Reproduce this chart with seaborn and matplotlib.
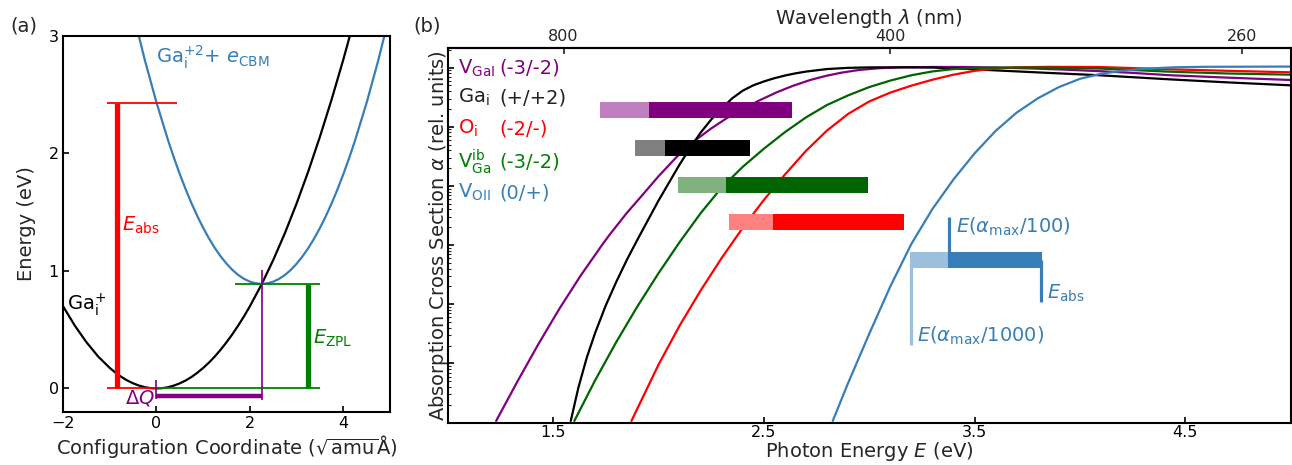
import numpy as np
import pandas as pd
import matplotlib
matplotlib.use("Agg")
import matplotlib.pyplot as plt
import seaborn as sns
from matplotlib.ticker import NullFormatter, LogLocator, NullLocator
from matplotlib.colors import to_rgb

sns.set_style("white")
plt.rcParams['font.family'] = ['DejaVu Sans']
plt.rcParams['mathtext.fontset'] = 'dejavusans'

# ---------------- Panel (a) data: configuration coordinate diagram ----------------
Q_ground = [-2.0, -1.75, -1.5, -1.25, -1.0, -0.875, -0.75, -0.625, -0.5, -0.375, -0.25, -0.125, 0.0,
            0.125, 0.25, 0.375, 0.5, 0.625, 0.75, 0.875, 1.0, 1.125, 1.25, 1.375, 1.5, 1.625, 1.75,
            1.875, 2.0, 2.25, 2.5, 2.75, 3.0, 3.25, 3.5, 3.75, 4.0, 4.25]
E_ground = [0.700, 0.536, 0.394, 0.273, 0.175, 0.134, 0.098, 0.068, 0.044, 0.025, 0.011, 0.003, 0.0,
            0.003, 0.011, 0.025, 0.044, 0.068, 0.098, 0.134, 0.175, 0.221, 0.273, 0.331, 0.394, 0.462, 0.536,
            0.615, 0.700, 0.886, 1.094, 1.323, 1.575, 1.848, 2.144, 2.461, 2.800, 3.161]
Q_excited = [-0.5, -0.25, 0.0, 0.25, 0.375, 0.5, 0.625, 0.75, 0.875, 1.0, 1.125, 1.25, 1.375, 1.5,
             1.625, 1.75, 1.875, 2.0, 2.125, 2.25, 2.375, 2.5, 2.625, 2.75, 2.875, 3.0, 3.125, 3.25,
             3.375, 3.5, 3.625, 3.75, 3.875, 4.0, 4.125, 4.25, 4.5, 4.75, 5.0]
E_excited = [3.197, 2.796, 2.434, 2.110, 1.962, 1.824, 1.695, 1.576, 1.467, 1.367, 1.276, 1.195, 1.124, 1.062,
             1.009, 0.966, 0.933, 0.909, 0.895, 0.890, 0.895, 0.909, 0.933, 0.966, 1.009, 1.062, 1.124, 1.195,
             1.276, 1.367, 1.467, 1.576, 1.695, 1.824, 1.962, 2.110, 2.434, 2.796, 3.197]
delta_Q = 2.25
E_zpl = 0.89
E_abs_a = 2.43

# ---------------- Panel (b) data: absorption cross sections (log10 of relative alpha) ----------------
E_VGaI = [1.23, 1.33, 1.43, 1.53, 1.63, 1.73, 1.77, 1.85, 1.92, 2.00, 2.085, 2.18, 2.25, 2.322, 2.40,
          2.479, 2.56, 2.637, 2.72, 2.795, 2.87, 2.953, 3.05, 3.174, 3.30, 3.45, 3.60, 3.77, 3.93, 4.088,
          4.25, 4.43, 4.70, 5.0]
logA_VGaI = [-5.97, -5.31, -4.675, -4.075, -3.52, -3.01, -2.816, -2.456, -2.17, -1.838, -1.515, -1.214,
             -1.03, -0.86, -0.70, -0.555, -0.42, -0.31, -0.21, -0.14, -0.085, -0.04, -0.01, 0.005, 0.01,
             0.01, 0.0, -0.015, -0.035, -0.06, -0.09, -0.13, -0.17, -0.21]
E_Gai = [1.584, 1.62, 1.66, 1.70, 1.75, 1.80, 1.85, 1.90, 2.00, 2.10, 2.15, 2.20, 2.25, 2.30, 2.35, 2.40,
         2.45, 2.50, 2.55, 2.60, 2.65, 2.70, 2.80, 2.90, 3.00, 3.15, 3.30, 3.45, 3.614, 3.85, 4.088, 4.43,
         4.70, 5.0]
logA_Gai = [-5.97, -5.41, -4.90, -4.48, -4.02, -3.62, -3.25, -2.91, -2.25, -1.64, -1.36, -1.10, -0.88,
            -0.69, -0.52, -0.39, -0.30, -0.235, -0.18, -0.135, -0.098, -0.068, -0.025, -0.005, 0.003,
            0.005, 0.0, -0.02, -0.05, -0.09, -0.129, -0.20, -0.25, -0.30]
E_Oi = [1.872, 2.00, 2.10, 2.20, 2.30, 2.40, 2.50, 2.60, 2.70, 2.80, 2.90, 3.00, 3.10, 3.20, 3.30, 3.40,
        3.50, 3.60, 3.70, 3.85, 4.088, 4.43, 4.70, 5.0]
logA_Oi = [-5.97, -5.023, -4.363, -3.768, -3.218, -2.708, -2.238, -1.808, -1.408, -1.063, -0.783, -0.573,
           -0.423, -0.3055, -0.205, -0.12, -0.055, -0.015, 0.005, 0.012, 0.01, -0.03, -0.055, -0.08]
E_VGaib = [1.601, 1.70, 1.80, 1.90, 2.00, 2.10, 2.20, 2.30, 2.40, 2.50, 2.60, 2.70, 2.80, 2.90, 3.00,
           3.10, 3.20, 3.30, 3.40, 3.50, 3.60, 3.80, 4.088, 4.43, 4.70, 5.0]
logA_VGaib = [-5.97, -5.282, -4.637, -4.037, -3.477, -2.952, -2.462, -2.027, -1.677, -1.372, -1.092,
              -0.842, -0.632, -0.47, -0.33, -0.22, -0.13, -0.065, -0.025, -0.005, 0.0, 0.0, -0.016,
              -0.07, -0.10, -0.12]
E_VOII = [2.827, 2.90, 3.00, 3.10, 3.20, 3.30, 3.40, 3.50, 3.60, 3.70, 3.80, 3.90, 4.00, 4.10, 4.20,
          4.30, 4.45, 4.60, 5.0]
logA_VOII = [-5.97, -5.33, -4.50, -3.70, -2.98, -2.39, -1.89, -1.45, -1.07, -0.76, -0.52, -0.33, -0.19,
             -0.105, -0.055, -0.02, 0.005, 0.013, 0.017]

defect_names = ["V_GaI", "Ga_i", "O_i", "V_Ga^ib", "V_OII"]
defect_labels = [r"V$_\mathrm{GaI}$", r"Ga$_\mathrm{i}$", r"O$_\mathrm{i}$",
                 r"V$_\mathrm{Ga}^\mathrm{ib}$", r"V$_\mathrm{OII}$"]
charge_labels = ["(-3/-2)", "(+/+2)", "(-2/-)", "(-3/-2)", "(0/+)"]

# bars (top to bottom order): E(alpha_max/1000), E(alpha_max/100), E_abs
bar_defects = ["V_GaI", "Ga_i", "V_Ga^ib", "O_i", "V_OII"]
E_1000 = [1.721, 1.891, 2.095, 2.336, 3.193]
E_100 = [1.953, 2.033, 2.322, 2.544, 3.373]
E_absorb = [2.633, 2.435, 2.994, 3.164, 3.822]

wavelength_ticks = [800, 400, 260]
hc = 1239.84

# ---------------- styling ----------------
blue = "#377eb8"
colors = {"V_GaI": "purple", "Ga_i": "black", "O_i": "red", "V_Ga^ib": "darkgreen", "V_OII": blue}
text_colors = {"V_GaI": "purple", "Ga_i": "#222222", "O_i": "red", "V_Ga^ib": "green", "V_OII": blue}


def lighten(c, f=0.5):
    r, g, b = to_rgb(c)
    return (1 - f * (1 - r), 1 - f * (1 - g), 1 - f * (1 - b))


fig = plt.figure(figsize=(12.92, 4.65), dpi=100)
axA = fig.add_axes([0.0488, 0.114, 0.2531, 0.8086])
axB = fig.add_axes([0.3465, 0.091, 0.6525, 0.8047])

# ---------------- Panel (a) ----------------
sns.lineplot(x=Q_ground, y=E_ground, color="black", lw=1.6, ax=axA, sort=False, estimator=None)
sns.lineplot(x=Q_excited, y=E_excited, color=blue, lw=1.6, ax=axA, sort=False, estimator=None)

axA.vlines(-0.85, 0, E_abs_a, color="red", lw=3.8)
axA.hlines(E_abs_a, -1.05, 0.43, color="red", lw=1.3)
axA.hlines(0, -1.05, 0, color="red", lw=1.3)
axA.hlines(0, 0, 3.5, color="green", lw=1.3)
axA.hlines(E_zpl, 1.68, 3.5, color="green", lw=1.3)
axA.vlines(3.24, 0, E_zpl, color="green", lw=3.8)
axA.vlines(0, -0.09, 0.07, color="purple", lw=1.2)
axA.vlines(delta_Q, -0.1, 1.01, color="purple", lw=1.2)
axA.hlines(-0.065, 0, delta_Q, color="purple", lw=3.2)

axA.text(0.0, 2.77, r"Ga$_\mathrm{i}^{+2}$+ $e_\mathrm{CBM}$", color=blue, fontsize=14, va="baseline")
axA.text(-0.73, 1.347, r"$E_\mathrm{abs}$", color="red", fontsize=14, va="baseline")
axA.text(-1.91, 0.665, r"Ga$_\mathrm{i}^{+}$", color="black", fontsize=14, va="baseline")
axA.text(3.34, 0.384, r"$E_\mathrm{ZPL}$", color="green", fontsize=14, va="baseline")
axA.text(-0.04, -0.13, r"$\Delta Q$", color="purple", fontsize=14, va="baseline", ha="right")

axA.set_xlim(-2, 5)
axA.set_ylim(-0.2, 3)
axA.set_xticks([-2, 0, 2, 4])
axA.set_yticks([0, 1, 2, 3])
axA.tick_params(direction="in", labelsize=11.5, length=4, width=1.2, colors="black",
                bottom=True, left=True, top=False, right=False, pad=3)
axA.set_xlabel(r"Configuration Coordinate ($\sqrt{\mathrm{amu}}$Å)", fontsize=14, labelpad=1)
axA.set_ylabel("Energy (eV)", fontsize=14, labelpad=9)
for s in axA.spines.values():
    s.set_linewidth(1.5)
    s.set_color("black")

# ---------------- Panel (b) ----------------
axB.set_yscale("log")
rows = []
for name, Es, Ls in [("V_GaI", E_VGaI, logA_VGaI), ("Ga_i", E_Gai, logA_Gai),
                     ("O_i", E_Oi, logA_Oi), ("V_Ga^ib", E_VGaib, logA_VGaib),
                     ("V_OII", E_VOII, logA_VOII)]:
    for e, l in zip(Es, Ls):
        rows.append({"defect": name, "E": e, "alpha": 10 ** l})
df = pd.DataFrame(rows)
sns.lineplot(data=df, x="E", y="alpha", hue="defect", palette=colors, lw=1.6,
             ax=axB, legend=False, sort=False, estimator=None)

trans = axB.get_xaxis_transform()
bar_y = [0.835, 0.735, 0.635, 0.535, 0.435]
bar_lw = 11.5
for d, e1, e2, e3, yb in zip(bar_defects, E_1000, E_100, E_absorb, bar_y):
    c = colors[d]
    axB.plot([e1, e2], [yb, yb], color=lighten(c), lw=bar_lw, solid_capstyle="butt", transform=trans)
    axB.plot([e2, e3], [yb, yb], color=c, lw=bar_lw, solid_capstyle="butt", transform=trans)

# annotation for V_OII bar
iv = bar_defects.index("V_OII")
axB.plot([E_1000[iv] + 0.007, E_1000[iv] + 0.007], [0.208, bar_y[iv]], color=lighten(blue), lw=2.3,
         transform=trans, solid_capstyle="butt")
axB.plot([E_100[iv] + 0.007, E_100[iv] + 0.007], [bar_y[iv], 0.549], color=blue, lw=2.3,
         transform=trans, solid_capstyle="butt")
axB.plot([E_absorb[iv] - 0.007, E_absorb[iv] - 0.007], [0.323, bar_y[iv]], color=blue, lw=2.3,
         transform=trans, solid_capstyle="butt")
axB.text(0.6026, 0.507, r"$E(\alpha_\mathrm{max}/100)$", color=blue, fontsize=14,
         transform=axB.transAxes, va="baseline")
axB.text(0.711, 0.3306, r"$E_\mathrm{abs}$", color=blue, fontsize=14,
         transform=axB.transAxes, va="baseline")
axB.text(0.5567, 0.2165, r"$E(\alpha_\mathrm{max}/1000)$", color=blue, fontsize=14,
         transform=axB.transAxes, va="baseline")

# defect labels
label_y = [0.932, 0.854, 0.771, 0.681, 0.600]
for name, lab, ch, yy in zip(defect_names, defect_labels, charge_labels, label_y):
    axB.text(0.012, yy, lab, color=text_colors[name], fontsize=14, transform=axB.transAxes, va="baseline")
    axB.text(0.0615, yy, ch, color=text_colors[name], fontsize=14, transform=axB.transAxes, va="baseline")

axB.set_xlim(1, 5)
axB.set_ylim(1e-6, 2.1)
axB.set_xticks([1.5, 2.5, 3.5, 4.5])
axB.yaxis.set_major_locator(LogLocator(base=10, numticks=20))
axB.yaxis.set_minor_locator(LogLocator(base=10, subs=np.arange(2, 10), numticks=100))
axB.yaxis.set_major_formatter(NullFormatter())
axB.yaxis.set_minor_formatter(NullFormatter())
axB.tick_params(which="major", direction="in", labelsize=11.5, length=4, width=1.2, colors="black",
                bottom=True, left=True, top=False, right=False, pad=1.5)
axB.tick_params(which="minor", direction="in", length=2, width=0.8, left=True, right=False)
axB.xaxis.set_minor_locator(NullLocator())
axB.set_xlabel(r"Photon Energy $E$ (eV)", fontsize=14, labelpad=0.5)
axB.set_ylabel(r"Absorption Cross Section $\alpha$ (rel. units)", fontsize=14, labelpad=-5)
for s in axB.spines.values():
    s.set_linewidth(1.5)
    s.set_color("black")

sec = axB.secondary_xaxis("top", functions=(lambda e: hc / e, lambda lam: hc / lam))
sec.set_xticks(wavelength_ticks)
sec.xaxis.set_minor_locator(NullLocator())
sec.tick_params(direction="in", labelsize=11.5, length=4, width=1.2, top=True, pad=3)
sec.set_xlabel(r"Wavelength $\lambda$ (nm)", fontsize=14)
sec.spines["top"].set_linewidth(1.5)

fig.text(0.0077, 0.944, "(a)", fontsize=14, va="center")
fig.text(0.3197, 0.944, "(b)", fontsize=14, va="center")

fig.savefig("out.png", dpi=100)
